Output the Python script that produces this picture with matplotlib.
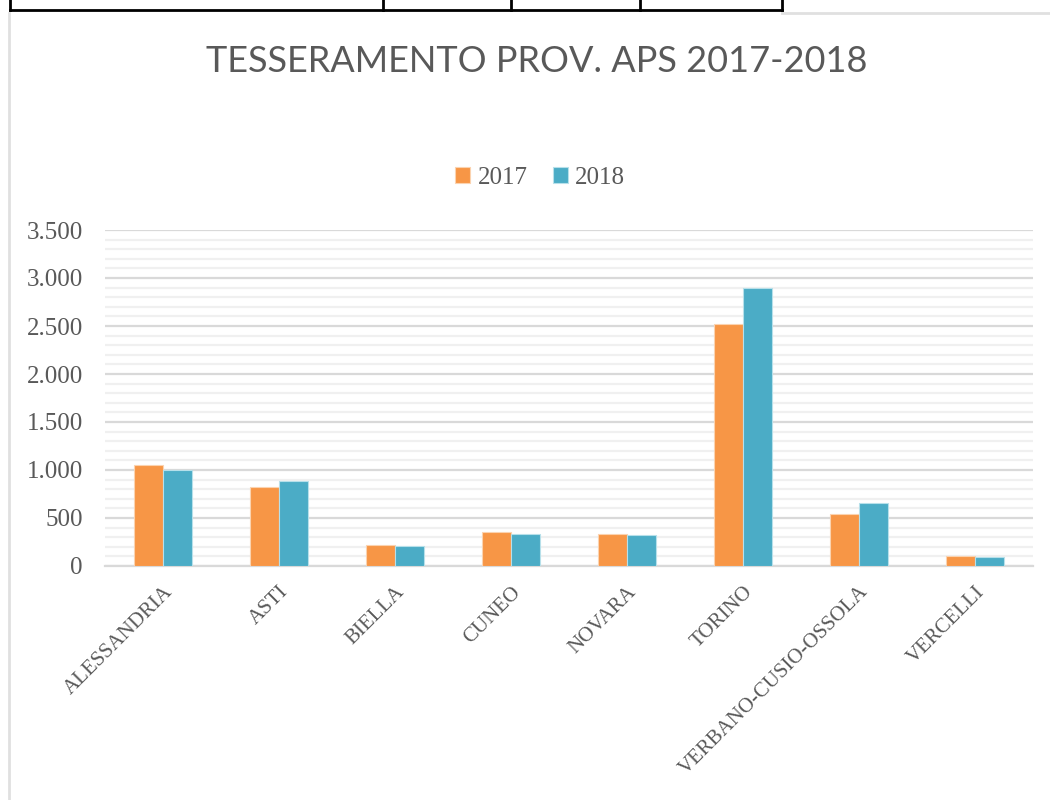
import matplotlib
matplotlib.use("Agg")
import matplotlib.pyplot as plt
from matplotlib.lines import Line2D
from matplotlib.ticker import MultipleLocator, FuncFormatter
import numpy as np

categories = ["ALESSANDRIA", "ASTI", "BIELLA", "CUNEO", "NOVARA", "TORINO",
              "VERBANO-CUSIO-OSSOLA", "VERCELLI"]
series_names = ["2017", "2018"]
values_2017 = [1052, 823, 218, 351, 333, 2521, 542, 104]
values_2018 = [1000, 882, 208, 337, 326, 2893, 660, 94]
colors = ["#F79646", "#4BACC6"]

W, H = 1050, 800
fig = plt.figure(figsize=(W / 100, H / 100), dpi=100)
fig.patch.set_facecolor("white")

ax = fig.add_axes([105 / W, 1 - 566 / H, (1033 - 105) / W, (566 - 230) / H])
x = np.arange(len(categories))
bw = 0.25
b1 = ax.bar(x - bw / 2, values_2017, bw, color=colors[0], edgecolor="#fbd3b0",
            linewidth=0.8, label=series_names[0], zorder=3)
b2 = ax.bar(x + bw / 2, values_2018, bw, color=colors[1], edgecolor="#b7e0ea",
            linewidth=0.8, label=series_names[1], zorder=3)

ax.set_xlim(-0.5, len(categories) - 0.5)
ax.set_ylim(0, 3500)
ax.yaxis.set_major_locator(MultipleLocator(500))
ax.yaxis.set_minor_locator(MultipleLocator(100))
ax.grid(which="minor", axis="y", color="#f0f0f0", linewidth=1.6, zorder=0)
ax.grid(which="major", axis="y", color="#d9d9d9", linewidth=1.6, zorder=1)
for s in ["top", "right", "left"]:
    ax.spines[s].set_visible(False)
ax.spines["bottom"].set_color("#d9d9d9")
ax.spines["bottom"].set_linewidth(1.6)
ax.tick_params(axis="both", which="both", length=0)
ax.yaxis.set_major_formatter(FuncFormatter(lambda v, p: f"{int(v):,}".replace(",", ".")))
ax.tick_params(axis="y", pad=16)
for lab in ax.get_yticklabels():
    lab.set_fontfamily("Liberation Serif")
    lab.set_fontsize(18)
    lab.set_color("#595959")
ax.set_xticks(x)
ax.set_xticklabels(categories, rotation=45, ha="right", rotation_mode="anchor",
                   fontfamily="Liberation Serif", fontsize=15, color="#595959")
ax.tick_params(axis="x", pad=12)

fig.text(537 / W, 1 - 61 / H, "TESSERAMENTO PROV. APS 2017-2018", ha="center",
         va="center", fontsize=26, color="#595959", fontfamily="Lato")

leg = fig.legend(handles=[b1, b2], labels=series_names, loc="center",
                 bbox_to_anchor=(540 / W, 1 - 178 / H), ncol=2, frameon=False,
                 prop={"family": "Liberation Serif", "size": 18},
                 handlelength=0.6, handleheight=0.6, handletextpad=0.3,
                 columnspacing=1.0)
for t in leg.get_texts():
    t.set_color("#595959")

# sheet / chart frame lines
def fline(x0, y0, x1, y1, color, lw):
    fig.add_artist(Line2D([x0 / W, x1 / W], [1 - y0 / H, 1 - y1 / H],
                          color=color, linewidth=lw, transform=fig.transFigure))

fline(9, 13, 9, 800, "#e0e0e0", 2)
fline(782, 13, 1050, 13, "#e0e0e0", 2)
fline(10, 10, 782, 10, "black", 2)
for xv in [10, 383, 511, 640, 782]:
    fline(xv, 0, xv, 10, "black", 2)

fig.savefig("out.png", dpi=100, facecolor="white")
